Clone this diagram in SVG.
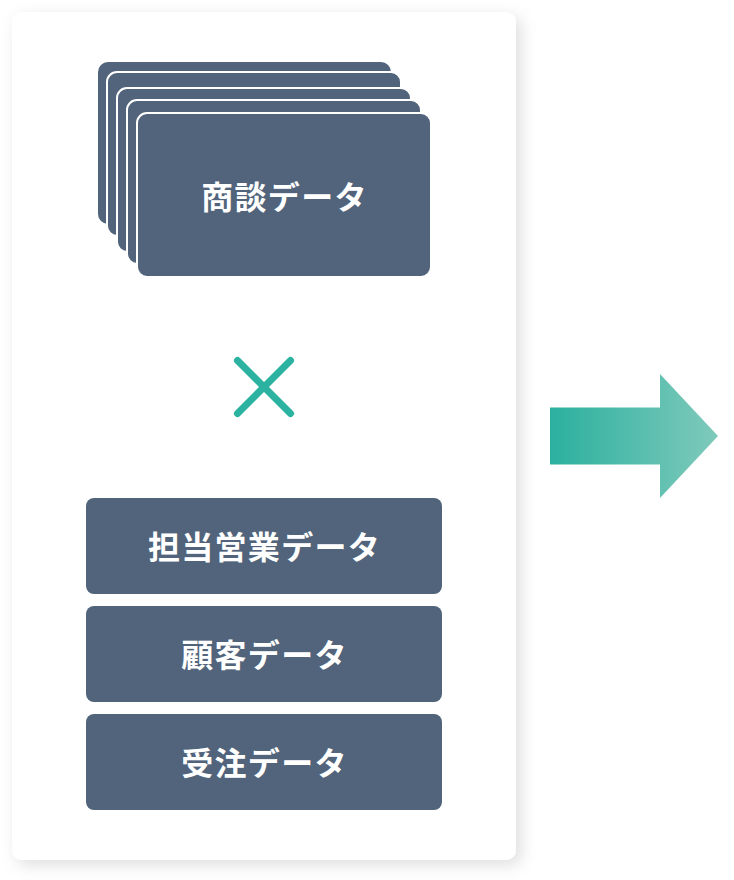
<svg xmlns="http://www.w3.org/2000/svg" width="734" height="880" viewBox="0 0 734 880">
<style>
.box{fill:#51647b}
.stack{fill:#51647b;stroke:#fff;stroke-width:2}
.lbl{font-family:"Noto Sans CJK JP","Noto Sans",sans-serif;font-weight:700;font-size:32px;fill:#fff;text-anchor:middle;letter-spacing:1.28px}
</style>
<defs>
<linearGradient id="g" x1="550" y1="0" x2="718" y2="0" gradientUnits="userSpaceOnUse"><stop offset="0" stop-color="#2bb09f"/><stop offset="1" stop-color="#7fcabb"/></linearGradient>
<filter id="sh" x="-10%" y="-10%" width="120%" height="120%"><feDropShadow dx="5" dy="5" stdDeviation="8" flood-color="#000" flood-opacity="0.13"/></filter>
</defs>
<rect width="734" height="880" fill="#fff"/>
<rect id="panel" x="12" y="12" width="504" height="848" rx="10" fill="#fff" filter="url(#sh)"/>
<g id="deal-data">
<rect x="98" y="62" width="293" height="162" rx="10" fill="#51647b"/>
<rect class="stack" x="107" y="72" width="294" height="164" rx="10"/>
<rect class="stack" x="117" y="88" width="294" height="164" rx="10"/>
<rect class="stack" x="127" y="100" width="294" height="164" rx="10"/>
<rect class="stack" x="137" y="113" width="294" height="164" rx="10"/>
<text class="lbl" x="284.500" y="209">商談データ</text>
</g>
<g id="times"><path d="M237.500 360.500L290.500 413.500M290.500 360.500L237.500 413.500" fill="none" stroke="#2cb2a0" stroke-width="7" stroke-linecap="round"/></g>
<g id="sales-data"><rect class="box" x="86" y="498" width="356" height="96" rx="8"/><text class="lbl" x="264.500" y="559">担当営業データ</text></g>
<g id="customer-data"><rect class="box" x="86" y="606" width="356" height="96" rx="8"/><text class="lbl" x="264.500" y="667">顧客データ</text></g>
<g id="order-data"><rect class="box" x="86" y="714" width="356" height="96" rx="8"/><text class="lbl" x="264.500" y="775">受注データ</text></g>
<g id="connectors"><path d="M550 407.500H660V374L718 436L660 498V464.500H550Z" fill="url(#g)"/></g>
</svg>
